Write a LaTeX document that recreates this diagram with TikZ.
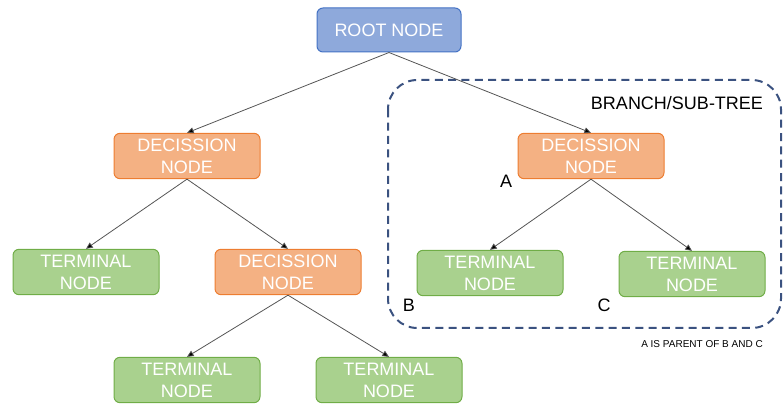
\documentclass[tikz,border=0pt]{standalone}
\usepackage{fontspec}
\setmainfont{Liberation Sans}
\usetikzlibrary{arrows.meta}

\definecolor{rootfill}{RGB}{142,169,219}
\definecolor{rootdraw}{RGB}{68,114,196}
\definecolor{decfill}{RGB}{244,177,131}
\definecolor{decdraw}{RGB}{237,125,49}
\definecolor{termfill}{RGB}{169,209,142}
\definecolor{termdraw}{RGB}{112,173,71}
\definecolor{branchdraw}{RGB}{59,82,128}
\definecolor{linkgray}{RGB}{85,85,85}

\tikzset{
  treenode/.style={rounded corners=4.5pt, line width=0.75pt, text=white, align=center,
    minimum width=109.5pt, minimum height=34pt, inner sep=0pt,
    font=\fontsize{13.5}{16.5}\selectfont},
  rootnode/.style={treenode, fill=rootfill, draw=rootdraw, minimum width=108pt, minimum height=33pt},
  decnode/.style={treenode, fill=decfill, draw=decdraw},
  termnode/.style={treenode, fill=termfill, draw=termdraw},
  link/.style={draw=linkgray, line width=0.6pt, -{Triangle[length=5pt,width=4.5pt,fill=black]}},
  tag/.style={font=\fontsize{13.5}{16.5}\selectfont, inner sep=0pt}
}

\begin{document}
\begin{tikzpicture}[x=0.75pt,y=0.75pt,yscale=-1,xscale=1]
\useasboundingbox (0,0) rectangle (783,406);

%Shape: dashed branch box
\draw [branchdraw, line width=1.5pt, dash pattern={on 6pt off 4pt}, rounded corners=22pt] (388,80) rectangle (781,328);

% Tree nodes
\node [rootnode] (root) at (389,30) {ROOT NODE};
\node [decnode] (decl) at (187,156) {DECISSION\\NODE};
\node [decnode] (decr) at (591,156) {DECISSION\\NODE};
\node [termnode] (terml) at (86,272) {TERMINAL\\NODE};
\node [decnode] (decm) at (288,272) {DECISSION\\NODE};
\node [termnode] (termb) at (490,273) {TERMINAL\\NODE};
\node [termnode] (termc) at (692,274) {TERMINAL\\NODE};
\node [termnode] (termbl) at (187,380) {TERMINAL\\NODE};
\node [termnode] (termbr) at (389,380) {TERMINAL\\NODE};

% Links
\draw [link] (root.south) -- (decl.north);
\draw [link] (root.south) -- (decr.north);
\draw [link] (decl.south) -- (terml.north);
\draw [link] (decl.south) -- (decm.north);
\draw [link] (decm.south) -- (termbl.north);
\draw [link] (decm.south) -- (termbr.north);
\draw [link] (decr.south) -- (termb.north);
\draw [link] (decr.south) -- (termc.north);

% Text Node
\node [tag] (branchlbl) at (677,103) {BRANCH/SUB-TREE};
% Text Node
\node [tag] (lbla) at (506,181) {A};
% Text Node
\node [tag] (lblb) at (409,305) {B};
% Text Node
\node [tag] (lblc) at (604,305) {C};
% Text Node
\node [font=\fontsize{7.5}{9}\selectfont, inner sep=0pt] (note) at (702,344) {A IS PARENT OF B AND C};

\end{tikzpicture}
\end{document}
